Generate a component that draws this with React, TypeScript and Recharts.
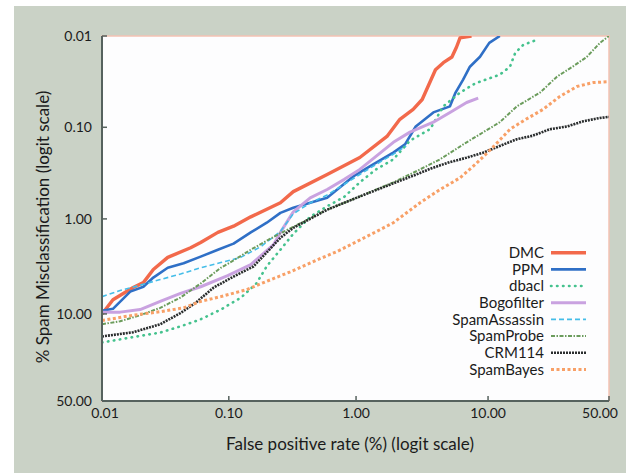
import React from 'react';
import { LineChart, Line, XAxis, YAxis, ReferenceArea, Legend } from 'recharts';

// [false positive rate %, spam misclassification %]
const DMC: [number, number][] = [[0.01,10],[0.0122,7.2],[0.0176,5.4],[0.0212,4.8],[0.0254,3.5],[0.033,2.6],[0.05,2.05],[0.06,1.8],[0.082,1.4],[0.109,1.2],[0.149,0.95],[0.255,0.667],[0.322,0.505],[0.594,0.328],[1.07,0.214],[1.74,0.126],[2.19,0.0817],[2.77,0.0636],[3.25,0.0496],[3.8,0.03],[4.1,0.0234],[4.7,0.0196],[5.45,0.017],[5.9,0.0132],[6.26,0.0105],[7.6,0.01]];
const PPM: [number, number][] = [[0.01,9.3],[0.0122,8.9],[0.0167,5.95],[0.0212,5.3],[0.0254,4.25],[0.033,3.35],[0.044,3.0],[0.06,2.55],[0.082,2.15],[0.109,1.85],[0.149,1.4],[0.199,1.1],[0.255,0.86],[0.322,0.757],[0.594,0.588],[0.95,0.345],[1.28,0.268],[1.96,0.188],[2.4,0.154],[2.9,0.098],[3.95,0.0687],[5.27,0.059],[5.8,0.0417],[6.6,0.03],[7.4,0.0217],[8.76,0.0169],[10.2,0.0119],[12.1,0.01]];
const DBACL: [number, number][] = [[0.01,18.6],[0.0167,16.8],[0.0288,15.1],[0.0416,13.2],[0.06,11.3],[0.0864,9.05],[0.124,6.9],[0.165,4.9],[0.2,3.2],[0.255,2.15],[0.322,1.45],[0.437,0.95],[0.594,0.73],[0.81,0.575],[1.07,0.4],[1.43,0.289],[1.95,0.224],[2.62,0.14],[3.73,0.105],[4.7,0.059],[6.26,0.0417],[8.1,0.033],[12.1,0.0265],[14.2,0.0217],[15.4,0.0153],[17.4,0.0125],[21.3,0.011]];
const BOGOFILTER: [number, number][] = [[0.01,9.6],[0.0139,9.6],[0.02,9.05],[0.0288,7.5],[0.0416,6.2],[0.06,5.3],[0.098,4.05],[0.149,3.1],[0.225,1.9],[0.255,1.4],[0.322,0.84],[0.437,0.59],[0.594,0.479],[0.81,0.371],[1.07,0.289],[1.43,0.208],[1.95,0.146],[2.62,0.113],[3.95,0.088],[5.27,0.069],[7.0,0.0535],[8.5,0.048]];
const SPAMASSASSIN: [number, number][] = [[0.01,6.7],[0.0139,5.8],[0.02,5.1],[0.0288,4.46],[0.0416,3.9],[0.06,3.35],[0.0864,2.95],[0.124,2.6],[0.178,2.0],[0.255,1.37],[0.322,0.88],[0.437,0.67],[0.594,0.55],[0.81,0.42],[1.07,0.328],[1.43,0.255],[1.95,0.197],[2.45,0.16]];
const SPAMPROBE: [number, number][] = [[0.01,12.6],[0.0139,11.8],[0.02,10.3],[0.0288,8.7],[0.0416,6.85],[0.06,4.9],[0.0864,3.35],[0.109,2.8],[0.149,2.15],[0.199,1.72],[0.255,1.43],[0.322,1.22],[0.594,0.794],[1.07,0.57],[1.95,0.4],[3.13,0.289],[4.44,0.224],[7.0,0.146],[12.1,0.088],[15.8,0.059],[22.2,0.0417],[28,0.0279],[34,0.0217],[40,0.017],[45.9,0.0119],[50,0.01]];
const CRM114: [number, number][] = [[0.01,16.4],[0.0176,15.0],[0.0288,12.6],[0.0416,9.8],[0.055,7.7],[0.076,5.4],[0.109,4.15],[0.156,3.25],[0.199,2.3],[0.255,1.6],[0.322,1.25],[0.594,0.794],[1.07,0.57],[1.95,0.41],[2.9,0.33],[3.85,0.28],[5.27,0.24],[7.0,0.215],[9.2,0.19],[12.1,0.16],[15.8,0.135],[19.9,0.124],[25.5,0.105],[31.8,0.098],[38.5,0.086],[45.9,0.079],[50,0.077]];
const SPAMBAYES: [number, number][] = [[0.01,11.6],[0.0176,10.3],[0.0288,9.5],[0.044,8.7],[0.06,7.5],[0.0864,6.7],[0.138,5.68],[0.199,4.65],[0.305,3.7],[0.5,2.75],[0.71,2.25],[1.02,1.75],[1.43,1.38],[1.95,1.1],[3.13,0.667],[4.44,0.479],[6.26,0.357],[8.1,0.255],[10.8,0.166],[14.2,0.105],[18.1,0.0817],[23.2,0.0636],[29.1,0.0458],[35.8,0.0358],[42.8,0.0324],[50,0.0317]];

const X_TICKS = [0.01, 0.1, 1, 10, 50];
const X_TICK_LABELS = ['0.01', '0.10', '1.00', '10.00', '50.00'];
const Y_TICKS = [0.01, 0.1, 1, 10, 50];
const Y_TICK_LABELS = ['0.01', '0.10', '1.00', '10.00', '50.00'];

const X_TITLE = 'False positive rate (%) (logit scale)';
const Y_TITLE = '% Spam Misclassification (logit scale)';

const lg = (p: number) => Math.log(p / (100 - p));
const toPts = (arr: [number, number][]) => arr.map(([x, y]) => ({ x: lg(x), y: lg(y) }));

const SERIES = [
  { name: 'DMC', data: DMC, color: '#f2694b', width: 3.4, dash: undefined as string | undefined, cap: 'butt' },
  { name: 'PPM', data: PPM, color: '#2f6fc6', width: 2.6, dash: undefined, cap: 'butt' },
  { name: 'dbacl', data: DBACL, color: '#45c28e', width: 2.6, dash: '0.5 5.5', cap: 'round' },
  { name: 'Bogofilter', data: BOGOFILTER, color: '#c9a2e0', width: 3, dash: undefined, cap: 'butt' },
  { name: 'SpamAssassin', data: SPAMASSASSIN, color: '#45bde8', width: 1.6, dash: '5 3', cap: 'butt' },
  { name: 'SpamProbe', data: SPAMPROBE, color: '#6b9c5c', width: 2, dash: '4 1.5 1.5 1.5', cap: 'butt' },
  { name: 'CRM114', data: CRM114, color: '#2a2d2e', width: 2.6, dash: '2 1', cap: 'butt' },
  { name: 'SpamBayes', data: SPAMBAYES, color: '#f8a067', width: 3, dash: '3 2.5', cap: 'butt' },
];

const AX = '#56625e';
const FONT = 'Lato, "Open Sans", sans-serif';
const TXT = '#1b1b1b';

const XTick = (props: any) => {
  const { x, y, index } = props;
  const shift = index === 0 ? 3 : index === X_TICKS.length - 1 ? -9 : 0;
  return (
    <text x={x + shift} y={y} dy="0.71em" textAnchor="middle" fontFamily={FONT} fontSize={14} fill={TXT}>
      {X_TICK_LABELS[index]}
    </text>
  );
};

const YTick = (props: any) => {
  const { x, y, index } = props;
  return (
    <text x={x} y={y} dy="0.36em" textAnchor="end" fontFamily={FONT} fontSize={14} fill={TXT}>
      {Y_TICK_LABELS[index]}
    </text>
  );
};

const XTitle = () => (
  <text x={336} y={444} textAnchor="middle" fontFamily={FONT} fontSize={17} fill={TXT}>
    {X_TITLE}
  </text>
);

const YTitle = () => (
  <text x={29} y={221} transform="rotate(-90 29 221)" dy="0.35em" textAnchor="middle" fontFamily={FONT} fontSize={17} fill={TXT}>
    {Y_TITLE}
  </text>
);

const LegendBox = () => (
  <svg width={612} height={467} style={{ position: 'absolute', left: 0, top: 0, pointerEvents: 'none' }}>
    {SERIES.map((s, i) => {
      const cy = 246.7 + i * 16.67;
      return (
        <g key={s.name}>
          <text x={530} y={cy} dy="0.36em" textAnchor="end" fontFamily={FONT} fontSize={15} fill={TXT}>
            {s.name}
          </text>
          <line x1={537} x2={572} y1={cy} y2={cy} stroke={s.color} strokeWidth={s.width}
            strokeDasharray={s.dash} strokeLinecap={s.cap as any} />
        </g>
      );
    })}
  </svg>
);

export default function App() {
  const xDom = [lg(X_TICKS[0]), lg(X_TICKS[X_TICKS.length - 1])];
  const yDom = [lg(Y_TICKS[0]), lg(Y_TICKS[Y_TICKS.length - 1])];
  const xT = X_TICKS.map(lg);
  const yT = Y_TICKS.map(lg);
  return (
    <div style={{ position: 'absolute', left: 14, top: 6, width: 612, height: 467, background: '#cad2c6' }}>
      <LineChart width={612} height={467} margin={{ top: 30, right: 17, bottom: 0, left: 0 }}>
        <XAxis xAxisId="b" type="number" dataKey="x" orientation="bottom" domain={xDom} ticks={xT} interval={0}
          allowDataOverflow height={72} tickSize={-5} tickMargin={12} tick={<XTick />}
          tickLine={{ stroke: AX, strokeWidth: 1.5 }} axisLine={{ stroke: AX, strokeWidth: 2 }} label={<XTitle />} />
        <XAxis xAxisId="t" type="number" dataKey="x" orientation="top" domain={xDom} ticks={xT} interval={0}
          allowDataOverflow height={0} tickSize={-5} tick={false}
          tickLine={{ stroke: AX, strokeWidth: 1.5 }} axisLine={{ stroke: AX, strokeWidth: 2 }} />
        <YAxis yAxisId="l" type="number" dataKey="y" orientation="left" domain={yDom} ticks={yT} interval={0}
          reversed allowDataOverflow width={88} tickSize={-5} tickMargin={15} tick={<YTick />}
          tickLine={{ stroke: AX, strokeWidth: 1.5 }} axisLine={{ stroke: AX, strokeWidth: 2 }} label={<YTitle />} />
        <YAxis yAxisId="r" type="number" dataKey="y" orientation="right" domain={yDom} ticks={yT} interval={0}
          reversed allowDataOverflow width={0} tickSize={-5} tick={false}
          tickLine={{ stroke: AX, strokeWidth: 1.5 }} axisLine={{ stroke: AX, strokeWidth: 2 }} />
        <ReferenceArea xAxisId="b" yAxisId="l" x1={xDom[0]} x2={xDom[1]} y1={yDom[0]} y2={yDom[1]}
          fill="#fdfdfe" fillOpacity={1} stroke="#f3c2b4" strokeWidth={1.5} ifOverflow="visible" />
        {SERIES.map((s) => (
          <Line key={s.name} xAxisId="b" yAxisId="l" name={s.name} data={toPts(s.data)} dataKey="y"
            type="linear" stroke={s.color} strokeWidth={s.width} strokeDasharray={s.dash}
            strokeLinecap={s.cap as any} strokeLinejoin="round" dot={false} activeDot={false}
            isAnimationActive={false} />
        ))}
        <Legend layout="vertical" align="center" verticalAlign="middle" content={<LegendBox />}
          wrapperStyle={{ left: 0, top: 0, width: 612, height: 467, margin: 0 }} />
      </LineChart>
    </div>
  );
}
